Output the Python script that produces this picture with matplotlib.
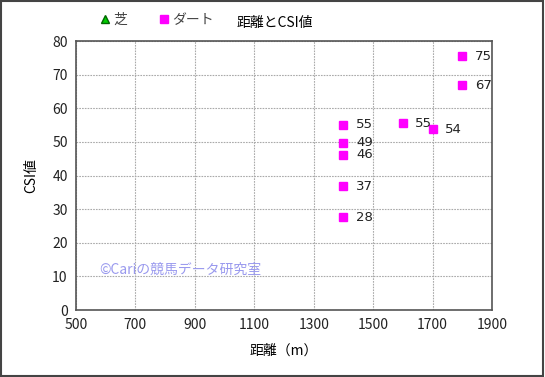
import matplotlib
matplotlib.use("Agg")
import matplotlib.pyplot as plt
from matplotlib.patches import Rectangle

plt.rcParams['font.family'] = ['Noto Sans CJK JP', 'DejaVu Sans']

# data: distance (m) and CSI value for dirt races; turf series is empty
dirt_dist = [1400, 1400, 1400, 1400, 1400, 1600, 1700, 1800, 1800]
dirt_csi = [55.1, 49.7, 46.2, 36.8, 27.6, 55.5, 53.8, 75.4, 66.9]
dirt_labels = ["55", "49", "46", "37", "28", "55", "54", "75", "67"]
turf_dist = []
turf_csi = []

x_ticks = [500, 700, 900, 1100, 1300, 1500, 1700, 1900]
y_ticks = [0, 10, 20, 30, 40, 50, 60, 70, 80]

fig = plt.figure(figsize=(5.45, 3.77), dpi=100)
ax = fig.add_axes([0.1394, 0.1777, 0.7634, 0.7135])

ax.plot(turf_dist, turf_csi, linestyle='none', marker='^', color='#00cc00',
        markeredgecolor='#006600', markersize=6, label="芝")
ax.plot(dirt_dist, dirt_csi, linestyle='none', marker='s', color='#ff00ff',
        markersize=6, label="ダート")

for x, y, lab in zip(dirt_dist, dirt_csi, dirt_labels):
    ax.annotate(lab, (x, y), xytext=(9, 0), textcoords='offset points',
                va='center', ha='left', fontsize=9.5, color='#222222',
                family='DejaVu Sans')

ax.set_xlim(500, 1900)
ax.set_ylim(0, 80)
ax.set_xticks(x_ticks)
ax.set_yticks(y_ticks)
ax.tick_params(labelsize=10, length=0, pad=6, colors='#222222')
ax.grid(True, linestyle=(0, (1.5, 1)), color='#aaaaaa', linewidth=0.8)
for s in ax.spines.values():
    s.set_color('#555555')
    s.set_linewidth(1.2)

ax.set_xlabel("距離（m）", fontsize=10, labelpad=8)
ax.set_ylabel("CSI値", fontsize=10, labelpad=10)

ax.text(578, 12, "©Cariの競馬データ研究室", color='#9999ee', fontsize=10,
        va='center', ha='left')

fig.text(0.505, 0.94, "距離とCSI値", ha='center', va='center', fontsize=10)
fig.legend(loc='center left', bbox_to_anchor=(0.183, 0.947), ncol=2,
           frameon=False, fontsize=10, handlelength=0.8, handletextpad=0.2,
           columnspacing=2.2, borderpad=0, borderaxespad=0,
           markerscale=0.9, labelcolor='#444444')

fig.patches.append(Rectangle((0.002, 0.003), 0.995, 0.994, transform=fig.transFigure,
                             fill=False, edgecolor='#444444', linewidth=1.5))

plt.savefig("out.png", dpi=100)
